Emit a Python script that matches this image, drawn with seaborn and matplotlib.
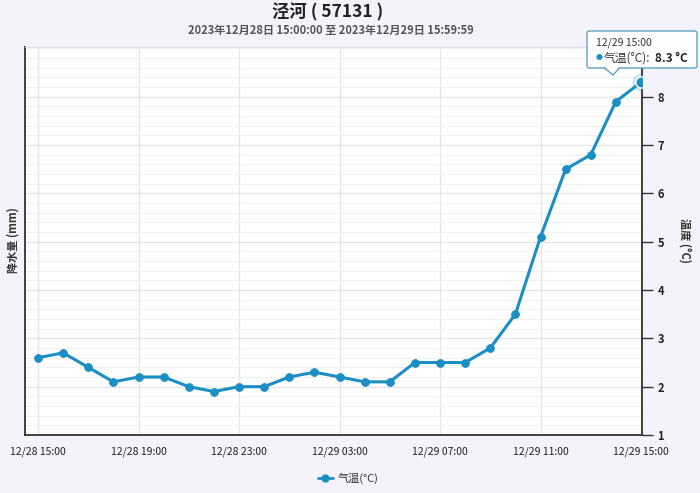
import matplotlib
matplotlib.use("Agg")
import matplotlib.pyplot as plt
import seaborn as sns
import pandas as pd
from matplotlib.patches import FancyBboxPatch, Polygon
from matplotlib.ticker import MultipleLocator
from matplotlib.lines import Line2D

time_labels = ["12/28 15:00", "12/28 16:00", "12/28 17:00", "12/28 18:00", "12/28 19:00",
               "12/28 20:00", "12/28 21:00", "12/28 22:00", "12/28 23:00", "12/29 00:00",
               "12/29 01:00", "12/29 02:00", "12/29 03:00", "12/29 04:00", "12/29 05:00",
               "12/29 06:00", "12/29 07:00", "12/29 08:00", "12/29 09:00", "12/29 10:00",
               "12/29 11:00", "12/29 12:00", "12/29 13:00", "12/29 14:00", "12/29 15:00"]
temperature = [2.6, 2.7, 2.4, 2.1, 2.2, 2.2, 2.0, 1.9, 2.0, 2.0, 2.2, 2.3, 2.2, 2.1, 2.1,
               2.5, 2.5, 2.5, 2.8, 3.5, 5.1, 6.5, 6.8, 7.9, 8.3]
series_name = "气温(°C)"
title = "泾河 ( 57131 )"
subtitle = "2023年12月28日 15:00:00 至 2023年12月29日 15:59:59"
y_ticks = [1, 2, 3, 4, 5, 6, 7, 8]

sns.set_theme(style="white")
plt.rcParams['font.family'] = ['Noto Sans CJK SC', 'DejaVu Sans']

df = pd.DataFrame({"idx": range(len(time_labels)), "time": time_labels, "temp": temperature})

BLUE = "#1b8ec4"
BG = "#f4f3fb"
fig = plt.figure(figsize=(7, 4.93), dpi=100, facecolor=BG)
ax = fig.add_axes([25/700, 58/493, 617/700, 388/493])
ax.set_facecolor("white")

sns.lineplot(data=df, x="idx", y="temp", ax=ax, color=BLUE, linewidth=2.2,
             marker="o", markersize=5.5, markeredgecolor=BLUE, label=series_name, legend=False)

# highlighted last point
last = df.iloc[-1]
ax.scatter([last["idx"]], [last["temp"]], s=170, color=BLUE, alpha=0.22, zorder=5, linewidths=0)
ax.scatter([last["idx"]], [last["temp"]], s=65, color=BLUE, edgecolor="white", linewidths=1.0, zorder=6)

ax.set_xlim(-0.52, len(time_labels) - 1 + 0.04)
ax.set_ylim(1, 9.03)
ax.set_xticks(range(0, len(time_labels), 4))
ax.set_xticklabels([time_labels[i] for i in range(0, len(time_labels), 4)], fontsize=7.5, color="#222222")
ax.yaxis.tick_right()
ax.set_yticks(y_ticks)
ax.set_yticklabels([str(v) for v in y_ticks], fontsize=8, color="#222222", fontweight="bold")
ax.yaxis.set_minor_locator(MultipleLocator(0.2))
ax.tick_params(axis="y", which="major", length=8, width=1, color="#333333", pad=3, right=True)
ax.tick_params(axis="y", which="minor", length=0)
ax.tick_params(axis="x", which="both", length=0, pad=8)
ax.grid(axis="x", which="major", color="#e6e6e6", linewidth=1)
ax.grid(axis="y", which="major", color="#e6e6e6", linewidth=1)
ax.grid(axis="y", which="minor", color="#f1f1f1", linewidth=0.8)
ax.set_axisbelow(True)
ax.set_xlabel("")
ax.set_ylabel("")
for s in ["left", "right", "bottom"]:
    ax.spines[s].set_visible(True)
    ax.spines[s].set_color("#333333")
    ax.spines[s].set_linewidth(1.3)
ax.spines["top"].set_visible(True)
ax.spines["top"].set_color("#dddddd")
ax.spines["top"].set_linewidth(0.8)

# axis labels
fig.text(13/700, 1 - 240/493, "降水量 (mm)", rotation=90, ha="center", va="center",
         fontsize=8, color="#333333", fontweight="bold")
fig.text(685/700, 1 - 240/493, "温度 (°C)", rotation=270, ha="center", va="center",
         fontsize=8, color="#333333", fontweight="bold")

# titles
fig.text(328/700, 1 - 12/493, title, ha="center", va="center", fontsize=12.5, fontweight="bold", color="#222222")
fig.text(331/700, 1 - 30/493, subtitle, ha="center", va="center", fontsize=8, fontweight="bold", color="#555555")

# legend
h = Line2D([0], [0], color=BLUE, marker="o", markersize=5, linewidth=2)
fig.legend([h], [series_name], loc="center", bbox_to_anchor=(348/700, 1 - 478/493), frameon=False,
           fontsize=8, handlelength=1.4, handletextpad=0.4, labelcolor="#333333")

# tooltip
tip = FancyBboxPatch((587/700, 1 - 68/493), 110/700, 37/493,
                     boxstyle="round,pad=0,rounding_size=0.004", transform=fig.transFigure,
                     facecolor="white", edgecolor="#5a9fc0", linewidth=1, alpha=0.95, zorder=10)
fig.patches.append(tip)
ptr = Polygon([(604/700, 1 - 67.5/493), (620/700, 1 - 67.5/493), (613/700, 1 - 75/493)],
              closed=True, transform=fig.transFigure, facecolor="white", edgecolor="#5a9fc0",
              linewidth=1, zorder=9)
fig.patches.append(ptr)
cover = Polygon([(605/700, 1 - 67.0/493), (619/700, 1 - 67.0/493), (613/700, 1 - 73.5/493)],
                closed=True, transform=fig.transFigure, facecolor="white", edgecolor="none", zorder=11)
fig.patches.append(cover)
fig.text(596/700, 1 - 43/493, last["time"], fontsize=7.5, color="#333333", va="center", zorder=12)
fig.text(596/700, 1 - 58/493, "●", fontsize=5, color=BLUE, va="center", zorder=12)
fig.text(604/700, 1 - 58/493, series_name + ":", fontsize=8.5, color="#333333", va="center", zorder=12)
fig.text(655/700, 1 - 58/493, f"{last['temp']} °C", fontsize=8.5, fontweight="bold",
         color="#222222", va="center", zorder=12)

fig.savefig("out.png", dpi=100, facecolor=BG)
